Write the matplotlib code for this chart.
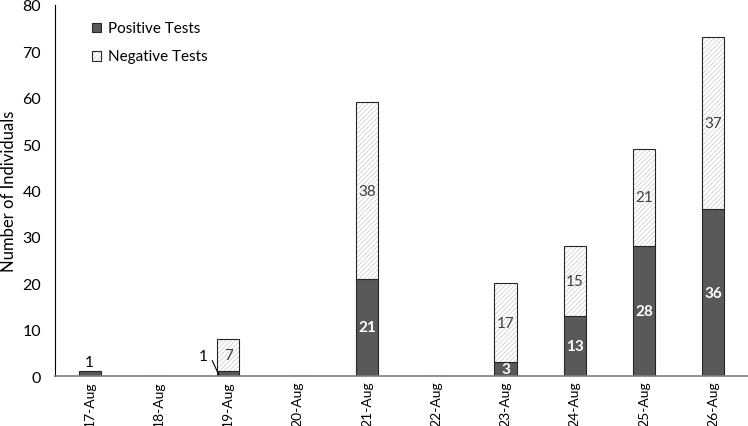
import numpy as np
import matplotlib
matplotlib.use("Agg")
from matplotlib import pyplot as plt
from matplotlib.patches import Rectangle

plt.rcParams['font.family'] = ['Lato', 'DejaVu Sans']
plt.rcParams['hatch.linewidth'] = 0.5

dates = ['17-Aug', '18-Aug', '19-Aug', '20-Aug', '21-Aug',
         '22-Aug', '23-Aug', '24-Aug', '25-Aug', '26-Aug']
positive = [1, 0, 1, 0, 21, 0, 3, 13, 28, 36]
negative = [0, 0, 7, 0, 38, 0, 17, 15, 21, 37]

x = np.arange(len(dates))
pos = np.array(positive)
neg = np.array(negative)

fig = plt.figure(figsize=(7.48, 4.27), dpi=100)
ax = fig.add_axes([0.0735, 0.117, 0.9265, 0.869])

w = 0.32
ax.bar(x, pos, w, color='#595959', edgecolor='#262626', linewidth=0.8)
mask = neg > 0
# hatch layer in light grey, then outline on top
ax.bar(x[mask], neg[mask], w, bottom=pos[mask], color='white',
       edgecolor='#c8c8c8', linewidth=0, hatch='///////')
ax.bar(x[mask], neg[mask], w, bottom=pos[mask], fill=False,
       edgecolor='#262626', linewidth=0.8)

# labels
for xi, p, n in zip(x, pos, neg):
    if p >= 3:
        ax.text(xi, p / 2, str(p), ha='center', va='center', color='white',
                fontsize=11, fontweight='bold')
    if n > 0:
        ax.text(xi, p + n / 2, str(n), ha='center', va='center',
                color='#404040', fontsize=11)

ax.text(0, pos[0] + 0.6, '1', ha='center', va='bottom', fontsize=11)
ax.text(1.64, 4.3, '1', ha='center', va='center', fontsize=11)
ax.plot([1.77, 1.87], [3.3, 0.1], color='black', lw=0.8)

ax.set_xlim(-0.5, 9.5)
ax.set_ylim(0, 80)
ax.set_yticks(range(0, 81, 10))
ax.set_xticks(x)
ax.set_xticklabels(dates, rotation=90)
ax.tick_params(axis='both', length=0)
ax.tick_params(axis='x', labelsize=10, pad=3)
ax.tick_params(axis='y', labelsize=11.5, pad=10)
ax.set_ylabel('Number of Individuals', fontsize=12)

ax.spines['top'].set_visible(False)
ax.spines['right'].set_visible(False)
ax.spines['left'].set_color('black')
ax.spines['bottom'].set_color('#7f7f7f')
ax.spines['bottom'].set_linewidth(1.2)

# legend drawn by hand (axes fraction)
sw, sh = 0.013, 0.0243
lx = 0.0534
for yc, name, dark in [(0.938, 'Positive Tests', True),
                       (0.8625, 'Negative Tests', False)]:
    if dark:
        ax.add_patch(Rectangle((lx, yc - sh / 2), sw, sh, transform=ax.transAxes,
                               facecolor='#595959', edgecolor='#262626', lw=0.8))
    else:
        ax.add_patch(Rectangle((lx, yc - sh / 2), sw, sh, transform=ax.transAxes,
                               facecolor='white', edgecolor='#c8c8c8', lw=0,
                               hatch='///////'))
        ax.add_patch(Rectangle((lx, yc - sh / 2), sw, sh, transform=ax.transAxes,
                               fill=False, edgecolor='#262626', lw=0.8))
    ax.text(lx + 0.023, yc, name, transform=ax.transAxes, ha='left',
            va='center', fontsize=11)

plt.savefig('out.png', dpi=100)
